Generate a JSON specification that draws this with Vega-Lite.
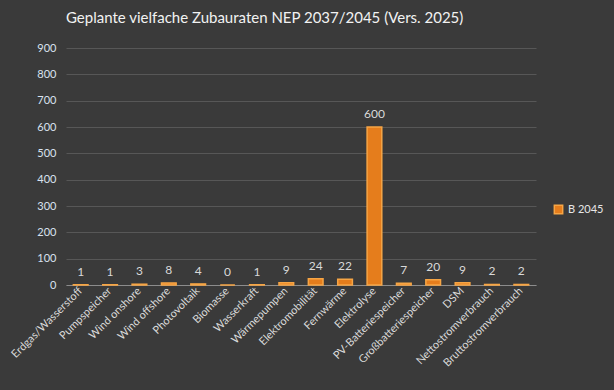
{
  "$schema": "https://vega.github.io/schema/vega-lite/v6.json",
  "autosize": {"type": "none"},
  "width": 470,
  "height": 237,
  "padding": {"left": 66, "top": 48, "right": 78, "bottom": 105},
  "background": "#3a3a3a",
  "title": {
    "text": "Geplante vielfache Zubauraten NEP 2037/2045 (Vers. 2025)",
    "anchor": "start",
    "frame": "group",
    "dx": 0,
    "offset": 16,
    "font": "Lato",
    "fontSize": 15,
    "fontWeight": "normal",
    "color": "#f2f2f2"
  },
  "data": {
    "values": [
      {"k": "Erdgas/Wasserstoff", "v": 1, "s": "B 2045"},
      {"k": "Pumpspeicher", "v": 1, "s": "B 2045"},
      {"k": "Wind onshore", "v": 3, "s": "B 2045"},
      {"k": "Wind offshore", "v": 8, "s": "B 2045"},
      {"k": "Photovoltaik", "v": 4, "s": "B 2045"},
      {"k": "Biomasse", "v": 0, "s": "B 2045"},
      {"k": "Wasserkraft", "v": 1, "s": "B 2045"},
      {"k": "Wärmepumpen", "v": 9, "s": "B 2045"},
      {"k": "Elektromobilität", "v": 24, "s": "B 2045"},
      {"k": "Fernwärme", "v": 22, "s": "B 2045"},
      {"k": "Elektrolyse", "v": 600, "s": "B 2045"},
      {"k": "PV-Batteriespeicher", "v": 7, "s": "B 2045"},
      {"k": "Großbatteriespeicher", "v": 20, "s": "B 2045"},
      {"k": "DSM", "v": 9, "s": "B 2045"},
      {"k": "Nettostromverbrauch", "v": 2, "s": "B 2045"},
      {"k": "Bruttostromverbrauch", "v": 2, "s": "B 2045"}
    ]
  },
  "encoding": {
    "x": {
      "field": "k", "type": "nominal", "sort": null,
      "scale": {"paddingInner": 0.5, "paddingOuter": 0.25},
      "axis": {
        "title": null, "labelAngle": -45, "labelAlign": "right", "labelBaseline": "middle",
        "labelFont": "Lato", "labelFontSize": 11, "labelColor": "#d9d9d9",
        "labelPadding": 4, "ticks": false, "domainColor": "#8c8c8c", "domainWidth": 1.2,
        "labelOverlap": false
      }
    },
    "y": {
      "field": "v", "type": "quantitative",
      "scale": {"domain": [0, 900], "nice": false},
      "axis": {
        "title": null, "values": [0,100,200,300,400,500,600,700,800,900],
        "labelOverlap": false, "labelFlush": false,
        "labelFont": "Lato", "labelFontSize": 11, "labelColor": "#d9e2ef",
        "labelPadding": 10, "ticks": false, "domain": false,
        "gridColor": "#575757", "gridWidth": 1
      }
    }
  },
  "layer": [
    {
      "mark": {"type": "bar", "stroke": "#f6a545", "strokeWidth": 1.5},
      "encoding": {
        "color": {
          "field": "s", "type": "nominal",
          "scale": {"range": ["#e57d1c"]},
          "legend": {
            "title": null, "orient": "none", "legendX": 487, "legendY": 156,
            "symbolType": "square", "symbolSize": 70, "symbolStrokeColor": "#f6a545",
            "labelFont": "Lato", "labelFontSize": 11, "labelColor": "#e6e6e6"
          }
        }
      }
    },
    {
      "mark": {"type": "text", "baseline": "bottom", "dy": -6, "font": "Lato", "fontSize": 12, "color": "#d9d9d9"},
      "encoding": {"text": {"field": "v", "type": "quantitative"}}
    }
  ],
  "config": {"view": {"stroke": null}}
}
